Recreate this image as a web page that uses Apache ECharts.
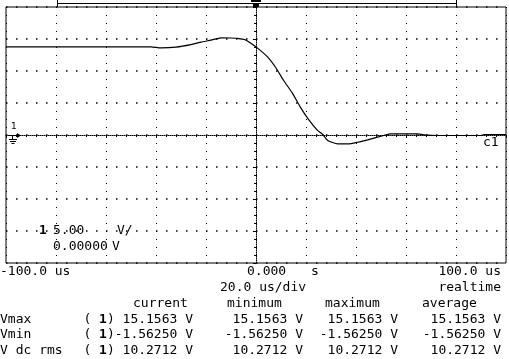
<!DOCTYPE html>
<html>
<head>
<meta charset="utf-8">
<script src="https://cdn.jsdelivr.net/npm/echarts@6/dist/echarts.min.js"></script>
<style>
  html, body { margin: 0; padding: 0; background: #fff; }
  #chart { width: 509px; height: 359px; }
</style>
</head>
<body>
<div id="chart"></div>
<script>
// trace: time in us, level in V (5 V/div, 20 us/div)
const timeUs = [-100, -42, -38, -32, -26, -22, -18, -14, -10, -7.4, -4.2, -2.2, 0.6, 4.6, 7.8, 11, 14.6, 17.8, 21, 24.6, 26.7, 28.7, 32.7, 36.7, 40.7, 44.7, 51.1, 53.9, 64.7, 67.1, 72.7, 90, 91.2, 100];
const volts = [13.78, 13.78, 13.62, 13.73, 14.12, 14.51, 14.83, 15.19, 15.16, 15.1, 14.87, 14.36, 13.57, 12.21, 10.59, 8.55, 6.51, 4.31, 2.43, 0.71, 0.08, -0.86, -1.38, -1.4, -1.13, -0.75, -0.08, 0.19, 0.19, 0.03, -0.08, -0.08, 0.08, 0.08];

const timeLabels = ['-100.0 us', '0.000', 's', '100.0 us'];
const scaleLabels = ['20.0 us/div', 'realtime'];
const statHeads = ['current', 'minimum', 'maximum', 'average'];
const statNames = ['Vmax', 'Vmin', 'V dc rms'];
const vmaxStats = ['15.1563', '15.1563', '15.1563', '15.1563'];
const vminStats = ['-1.56250', '-1.56250', '-1.56250', '-1.56250'];
const vrmsStats = ['10.2712', '10.2712', '10.2712', '10.2712'];
const channelLabels = ['1', '5.00', 'V/', '0.00000', 'V', 'c1'];

const FONT = '13px "DejaVu Sans Mono"';
const BOLD = 'bold 13px "DejaVu Sans Mono"';

function txt(text, x, y, align, font) {
  return {
    type: 'text', x: x, y: y, silent: true,
    style: { text: text, font: font || FONT, fill: '#000', textAlign: align || 'left', textVerticalAlign: 'middle' }
  };
}
function seg(points) {
  return { type: 'polyline', silent: true, shape: { points: points }, style: { stroke: '#000', lineWidth: 1 } };
}

const graphics = [];
// time readout row
graphics.push(txt(timeLabels[0], 0, 271.5));
graphics.push(txt(timeLabels[1], 247, 271.5));
graphics.push(txt(timeLabels[2], 311, 271.5));
graphics.push(txt(timeLabels[3], 501, 271.5, 'right'));
graphics.push(txt(scaleLabels[0], 220, 287.5));
graphics.push(txt(scaleLabels[1], 501, 287.5, 'right'));

// measurement table
const headX = [133, 227, 325, 422];
statHeads.forEach((h, i) => graphics.push(txt(h, headX[i], 303.3)));
const rowY = [319.3, 335, 350.7];
const valueRight = [193, 303, 398, 501];
[vmaxStats, vminStats, vrmsStats].forEach((row, r) => {
  graphics.push(txt(statNames[r], 0, rowY[r]));
  row.forEach((v, c) => {
    if (c === 0) {
      const s = (v.charAt(0) === '-' ? '' : ' ') + v + ' V';
      graphics.push({
        type: 'text', x: valueRight[0], y: rowY[r], silent: true,
        style: {
          text: '( {b|1})' + s, font: FONT, fill: '#000', textAlign: 'right', textVerticalAlign: 'middle',
          rich: { b: { font: BOLD, fill: '#000' } }
        }
      });
    } else {
      graphics.push(txt(v + ' V', valueRight[c], rowY[r], 'right'));
    }
  });
});

// channel readout inside the screen
graphics.push(txt(channelLabels[0], 39, 231, 'left', BOLD));
graphics.push(txt(channelLabels[1], 53, 231));
graphics.push(txt(channelLabels[2], 117, 231));
graphics.push(txt(channelLabels[3], 53, 247));
graphics.push(txt(channelLabels[4], 112, 247));
graphics.push(txt(channelLabels[5], 483, 143));

// ground / channel marker on the left edge
graphics.push(txt('1', 11, 127, 'left', '9px "DejaVu Sans"'));
graphics.push(seg([[9, 135.5], [20, 135.5]]));
graphics.push({ type: 'polygon', silent: true, shape: { points: [[17, 133], [21, 135.5], [17, 138]] }, style: { fill: '#000' } });
graphics.push(seg([[12.5, 135], [12.5, 139]]));
graphics.push(seg([[9, 139.5], [17, 139.5]]));
graphics.push(seg([[10, 141.5], [16, 141.5]]));
graphics.push(seg([[11.5, 143.5], [14.5, 143.5]]));

// memory window bar and trigger marker above the screen
graphics.push(seg([[57, 3.5], [457, 3.5]]));
graphics.push(seg([[57.5, 0], [57.5, 7]]));
graphics.push(seg([[456.5, 0], [456.5, 7]]));
graphics.push({ type: 'rect', silent: true, shape: { x: 251, y: 0, width: 10, height: 2 }, style: { fill: '#000' } });
graphics.push({ type: 'rect', silent: true, shape: { x: 253, y: 3, width: 6, height: 4 }, style: { fill: '#000' } });

const chart = echarts.init(document.getElementById('chart'));
chart.setOption({
  animation: false,
  backgroundColor: '#fff',
  grid: {
    left: 6, top: 7, width: 500, height: 256,
    show: true, borderColor: '#000', borderWidth: 1
  },
  xAxis: {
    type: 'value', min: -100, max: 100, interval: 20,
    axisLine: { onZero: true, lineStyle: { color: '#000', width: 1, type: [1, 1] } },
    axisTick: { show: true, length: 3, lineStyle: { color: '#000' } },
    minorTick: { show: true, splitNumber: 5, length: 2, lineStyle: { color: '#000' } },
    axisLabel: { show: false },
    splitLine: { show: true, lineStyle: { color: '#000', width: 1, type: [1, 7] } }
  },
  yAxis: {
    type: 'value', min: -20, max: 20, interval: 5,
    axisLine: { onZero: true, lineStyle: { color: '#000', width: 1, type: [1, 1] } },
    axisTick: { show: true, length: 3, lineStyle: { color: '#000' } },
    minorTick: { show: true, splitNumber: 4, length: 2, lineStyle: { color: '#000' } },
    axisLabel: { show: false },
    splitLine: { show: true, lineStyle: { color: '#000', width: 1.5, type: [1.5, 8.5] } }
  },
  series: [{
    type: 'line',
    data: timeUs.map((t, i) => [t, volts[i]]),
    showSymbol: false,
    smooth: 0.2,
    lineStyle: { color: '#000', width: 1.2 },
    z: 5
  }],
  graphic: graphics
});
</script>
</body>
</html>
